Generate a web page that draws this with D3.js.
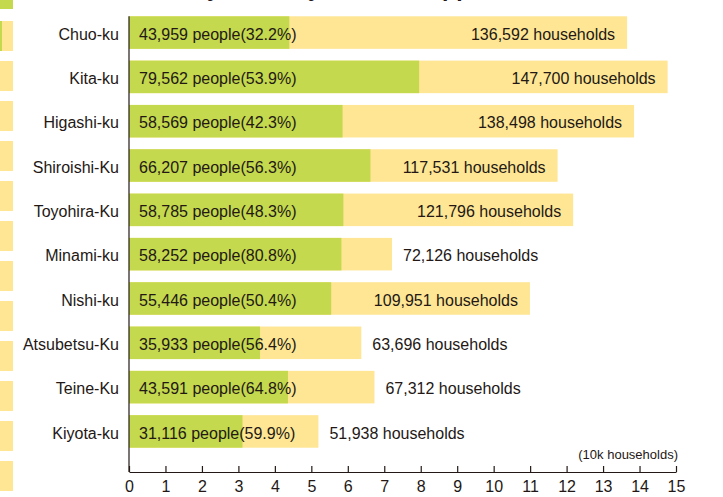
<!DOCTYPE html>
<html>
<head>
<meta charset="utf-8">
<script src="https://cdn.jsdelivr.net/npm/d3@7"></script>
<style>
  body { margin: 0; background: #fff; }
  svg { display: block; font-family: "Liberation Sans", Arial, sans-serif; }
</style>
</head>
<body>
<div id="chart"></div>
<script>
// Data
const wards = ["Chuo-ku", "Kita-ku", "Higashi-ku", "Shiroishi-Ku", "Toyohira-Ku",
               "Minami-ku", "Nishi-ku", "Atsubetsu-Ku", "Teine-Ku", "Kiyota-ku"];
const people = [43959, 79562, 58569, 66207, 58785, 58252, 55446, 35933, 43591, 31116];
const shares = [32.2, 53.9, 42.3, 56.3, 48.3, 80.8, 50.4, 56.4, 64.8, 59.9];
const households = [136592, 147700, 138498, 117531, 121796, 72126, 109951, 63696, 67312, 51938];
const xTicks = d3.range(0, 16);

const rows = wards.map((w, i) => ({
    ward: w,
    people: people[i],
    share: shares[i],
    households: households[i]
}));

// Specify the chart's dimensions.
const width = 723;
const height = 497;
const marginLeft = 129;
const marginRight = 47;
const axisY = 472;

const green = "#c4d94d";
const yellow = "#fee694";
const ink = "#231815";
const fmt = d3.format(",");

const x = d3.scaleLinear()
    .domain([0, 15])
    .range([marginLeft, width - marginRight]);

const y = d3.scaleBand()
    .domain(wards)
    .range([10.4, 453.6])
    .paddingInner(0.266)
    .paddingOuter(0.133);

const svg = d3.select("#chart")
    .append("svg")
    .attr("width", width)
    .attr("height", height)
    .attr("viewBox", [0, 0, width, height]);

// Cropped fragment of the neighbouring chart on the left edge
const strip = svg.append("g");
strip.append("rect").attr("x", 0).attr("y", 0).attr("width", 13).attr("height", 9).attr("fill", green);
strip.selectAll(".cell")
    .data(d3.range(12))
    .join("rect")
    .attr("x", 0)
    .attr("y", (d) => 21 + d * 40)
    .attr("width", 13)
    .attr("height", 30)
    .attr("fill", yellow);
strip.append("rect").attr("x", 0).attr("y", 21).attr("width", 2).attr("height", 30).attr("fill", green);

// Title, cut off by the top edge
svg.append("text")
    .attr("x", 143)
    .attr("y", -4.5)
    .attr("fill", ink)
    .style("font-size", "23px")
    .style("font-weight", "bold")
    .text("Elderly share by ward in Sapporo");

// Households bars (yellow)
svg.append("g")
    .selectAll("rect")
    .data(rows)
    .join("rect")
    .attr("x", x(0))
    .attr("y", (d) => y(d.ward))
    .attr("width", (d) => x(d.households / 10000) - x(0))
    .attr("height", y.bandwidth())
    .attr("fill", yellow);

// People bars (green)
svg.append("g")
    .selectAll("rect")
    .data(rows)
    .join("rect")
    .attr("x", x(0))
    .attr("y", (d) => y(d.ward))
    .attr("width", (d) => x(d.people / 10000) - x(0))
    .attr("height", y.bandwidth())
    .attr("fill", green);

// People labels
svg.append("g")
    .selectAll("text")
    .data(rows)
    .join("text")
    .attr("x", x(0) + 10)
    .attr("y", (d) => y(d.ward) + y.bandwidth() / 2)
    .attr("dy", "0.45em")
    .attr("fill", ink)
    .style("font-size", "16px")
    .text((d) => `${fmt(d.people)} people(${d.share.toFixed(1)}%)`);

// Households labels: inside the bar when it is long, otherwise after it
svg.append("g")
    .selectAll("text")
    .data(rows)
    .join("text")
    .attr("x", (d) => d.households > 100000 ? x(d.households / 10000) - 12 : x(d.households / 10000) + 11)
    .attr("y", (d) => y(d.ward) + y.bandwidth() / 2)
    .attr("dy", "0.45em")
    .attr("text-anchor", (d) => d.households > 100000 ? "end" : "start")
    .attr("fill", ink)
    .style("font-size", "16px")
    .text((d) => `${fmt(d.households)} households`);

// Ward names
svg.append("g")
    .selectAll("text")
    .data(rows)
    .join("text")
    .attr("x", 119)
    .attr("y", (d) => y(d.ward) + y.bandwidth() / 2)
    .attr("dy", "0.45em")
    .attr("text-anchor", "end")
    .attr("fill", ink)
    .style("font-size", "16px")
    .text((d) => d.ward);

// Vertical axis line
svg.append("line")
    .attr("x1", x(0))
    .attr("x2", x(0))
    .attr("y1", y(wards[0]))
    .attr("y2", axisY)
    .attr("stroke", ink)
    .attr("stroke-width", 1.2);

// Bottom axis, ticks pointing up
const xAxis = svg.append("g")
    .attr("transform", `translate(0,${axisY})`)
    .call(
        d3.axisBottom(x)
            .tickValues(xTicks)
            .tickFormat(d3.format("d"))
            .tickSize(-6)
            .tickSizeOuter(0)
            .tickPadding(9)
    );
xAxis.select(".domain").attr("stroke", ink).attr("stroke-width", 1.2);
xAxis.selectAll(".tick line").attr("stroke", ink).attr("stroke-width", 1.2);
xAxis.selectAll(".tick text")
    .attr("fill", ink)
    .style("font-size", "16px")
    .style("font-family", "'Liberation Sans', Arial, sans-serif");

// Unit label
svg.append("text")
    .attr("x", 678)
    .attr("y", 454)
    .attr("dy", "0.36em")
    .attr("text-anchor", "end")
    .attr("fill", ink)
    .style("font-size", "13px")
    .text("(10k households)");
</script>
</body>
</html>
